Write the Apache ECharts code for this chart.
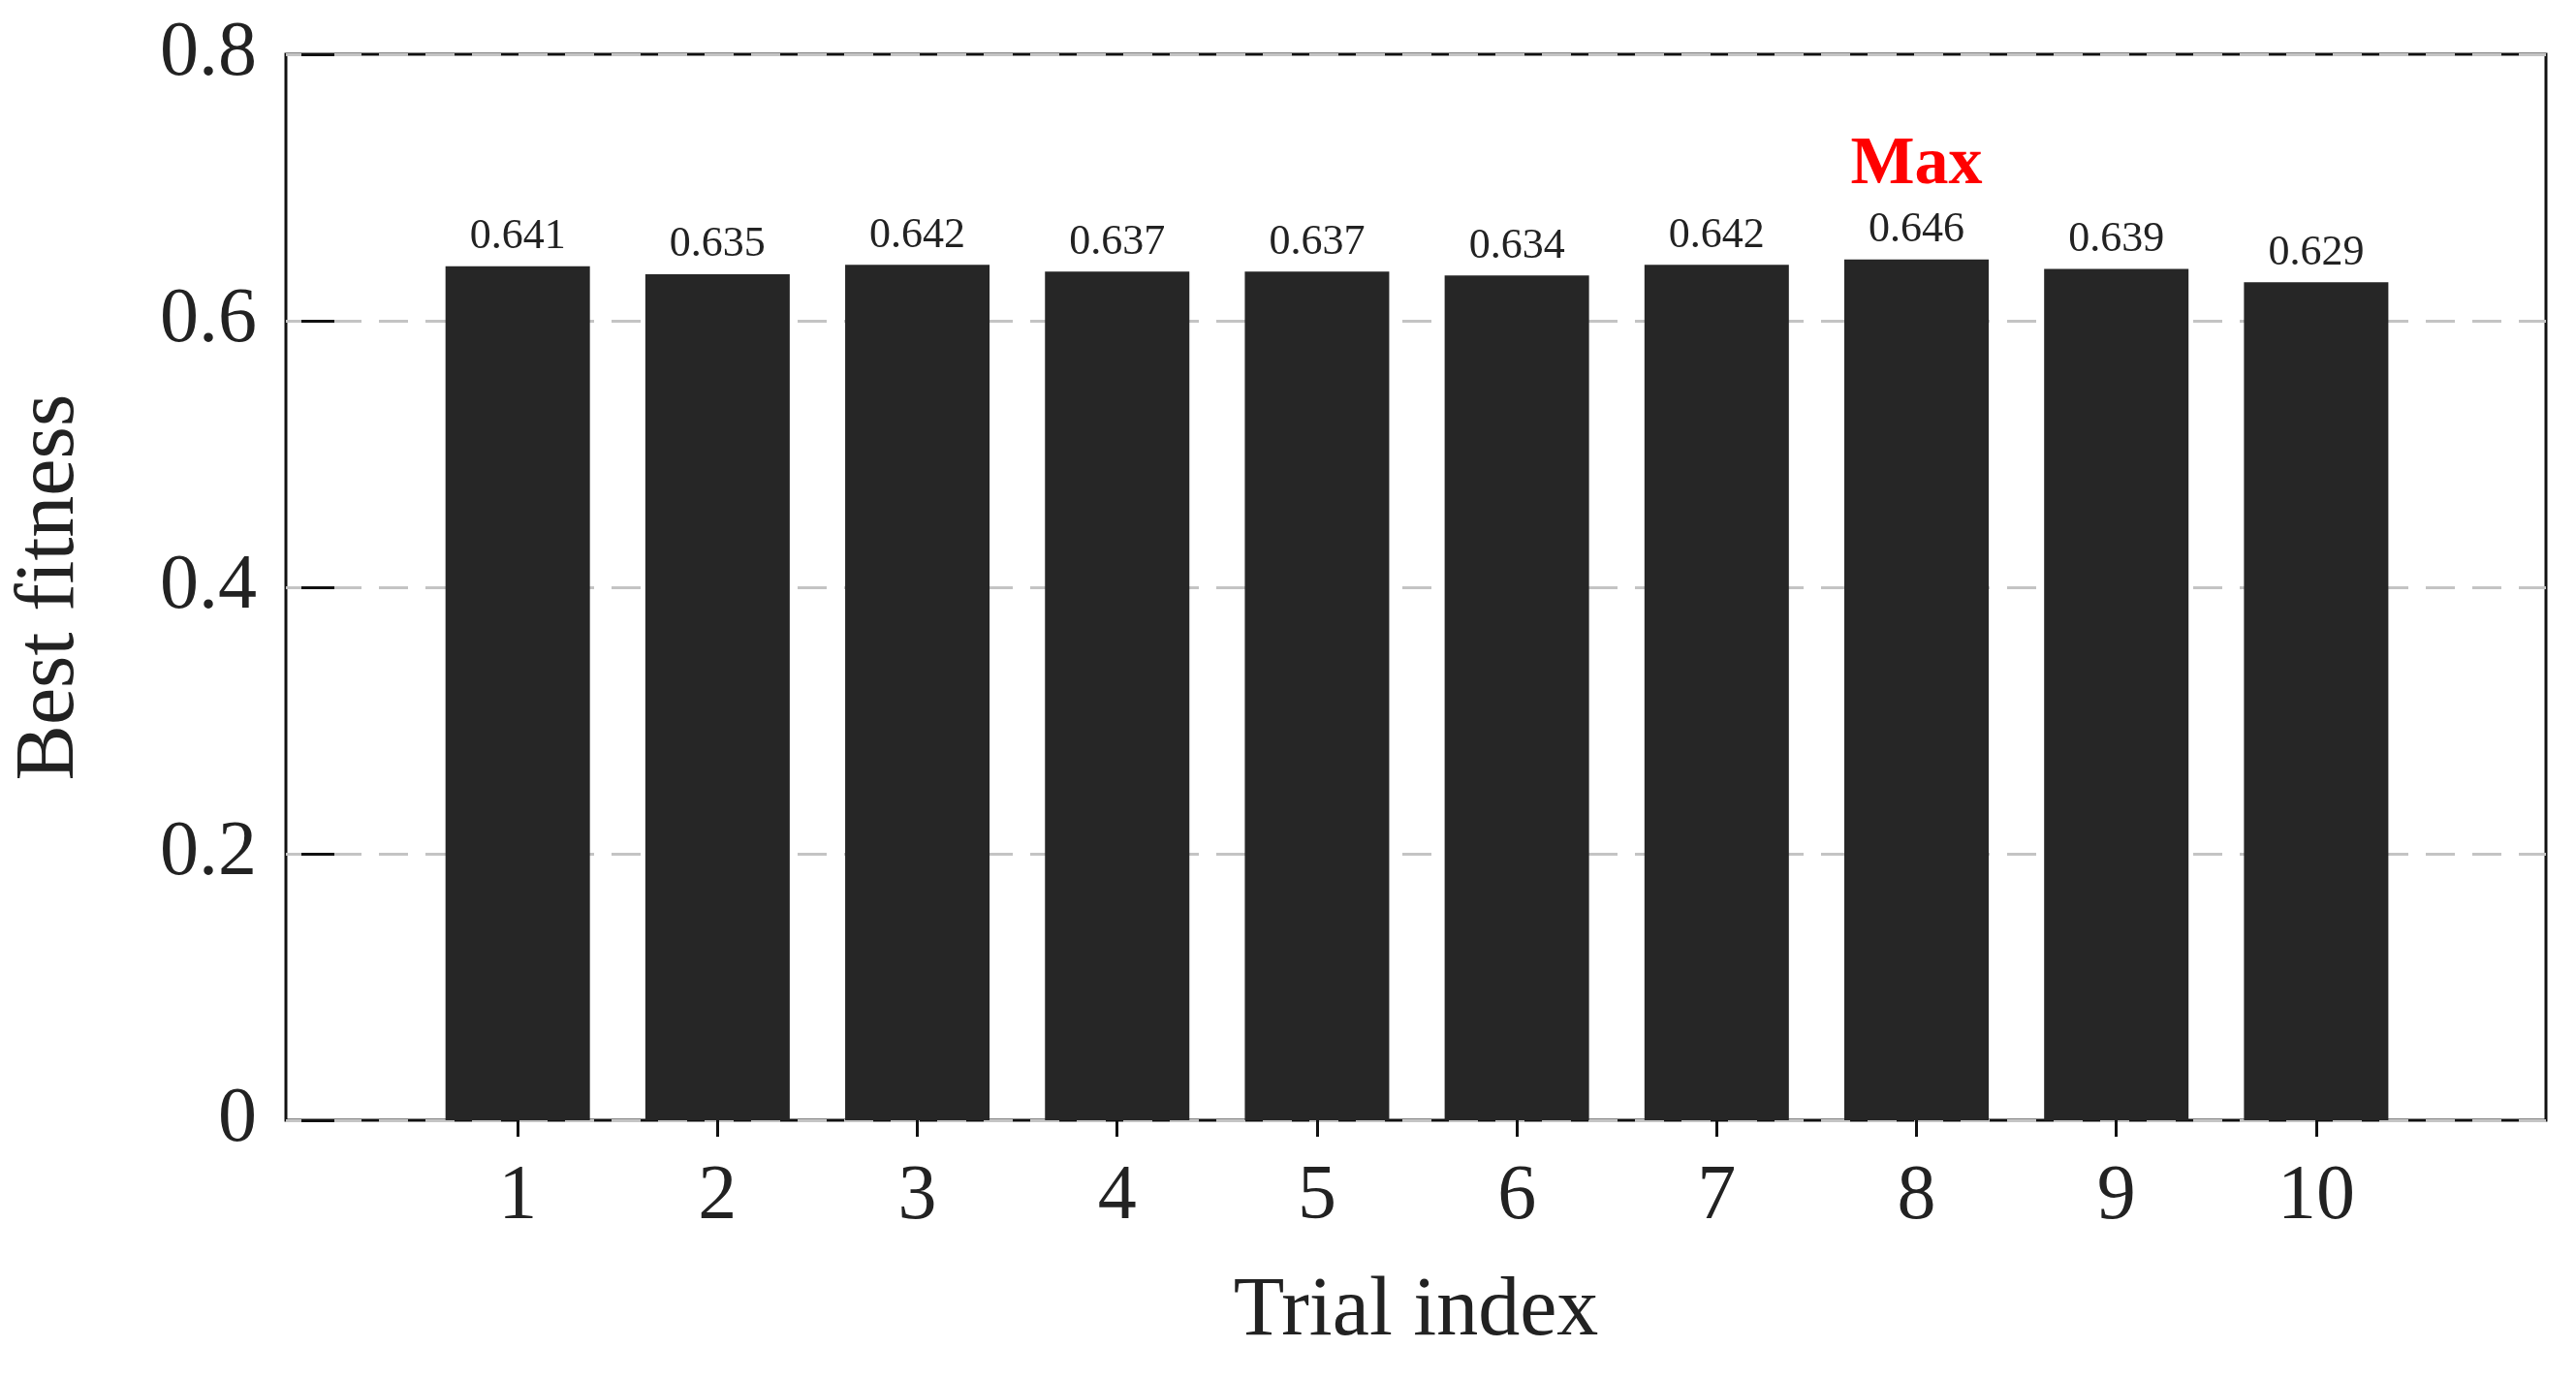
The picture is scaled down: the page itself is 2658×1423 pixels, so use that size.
<!DOCTYPE html>
<html><head><meta charset="utf-8">
<script src="https://cdn.jsdelivr.net/npm/echarts@6/dist/echarts.min.js"></script>
<style>html,body{margin:0;padding:0;background:#fff}#c{width:2658px;height:1423px}</style>
</head><body><div id="c"></div>
<script>
const trials = [1,2,3,4,5,6,7,8,9,10];
const fitness = [0.641,0.635,0.642,0.637,0.637,0.634,0.642,0.646,0.639,0.629];
const yTicks = [0,0.2,0.4,0.6,0.8];
const maxIdx = fitness.indexOf(Math.max(...fitness));
const F = 'Liberation Serif';
const chart = echarts.init(document.getElementById('c'));
const data = trials.map((t,i)=>({
  value:[t,fitness[i]],
  label:{formatter: i===maxIdx ? '{m|Max}\n{v|'+fitness[i].toFixed(3)+'}' : '{v|'+fitness[i].toFixed(3)+'}'}
}));
chart.setOption({
  backgroundColor:'#fff',
  animation:false,
  grid:{left:295,right:31,top:56,bottom:267,show:true,borderColor:'#111',borderWidth:3,backgroundColor:'transparent'},
  xAxis:[{type:'value',min:-0.16,max:11.15,
    name:'Trial index',nameLocation:'middle',nameGap:155,
    nameTextStyle:{fontFamily:F,fontSize:86,color:'#222'},
    axisLine:{show:false},
    axisTick:{show:true,inside:true,length:17,lineStyle:{color:'#111',width:3},customValues:trials},
    axisLabel:{fontFamily:F,fontSize:80,color:'#222',margin:40,customValues:trials},
    splitLine:{show:false}},
   {type:'value',position:'top',min:-0.16,max:11.15,
    axisLine:{show:false},
    axisTick:{show:true,inside:true,length:17,lineStyle:{color:'#111',width:3},customValues:trials},
    axisLabel:{show:false,customValues:trials},splitLine:{show:false}}],
  yAxis:[{type:'value',min:0,max:0.8,interval:0.2,
    name:'Best fitness',nameLocation:'middle',nameGap:200,
    nameTextStyle:{fontFamily:F,fontSize:86,color:'#222'},
    axisLine:{show:false},
    axisTick:{show:true,inside:true,length:17,lineStyle:{color:'#111',width:3}},
    axisLabel:{fontFamily:F,fontSize:80,color:'#222',margin:30,formatter:v=>String(+v.toFixed(1))},
    splitLine:{show:true,lineStyle:{color:'#c4c4c4',type:[30,18],width:3}}},
   {type:'value',position:'right',min:0,max:0.8,interval:0.2,
    axisLine:{show:false},
    axisTick:{show:true,inside:true,length:17,lineStyle:{color:'#111',width:3}},
    axisLabel:{show:false},splitLine:{show:false}}],
  series:[{type:'bar',data:data,barWidth:149,
    itemStyle:{color:'#262626'},
    label:{show:true,position:'top',distance:8,
      rich:{v:{fontFamily:F,fontSize:44,color:'#222'},
            m:{fontFamily:F,fontSize:70,fontWeight:'bold',color:'#ff0000',lineHeight:80,padding:[0,0,10,0]}}}}]
});
</script></body></html>
